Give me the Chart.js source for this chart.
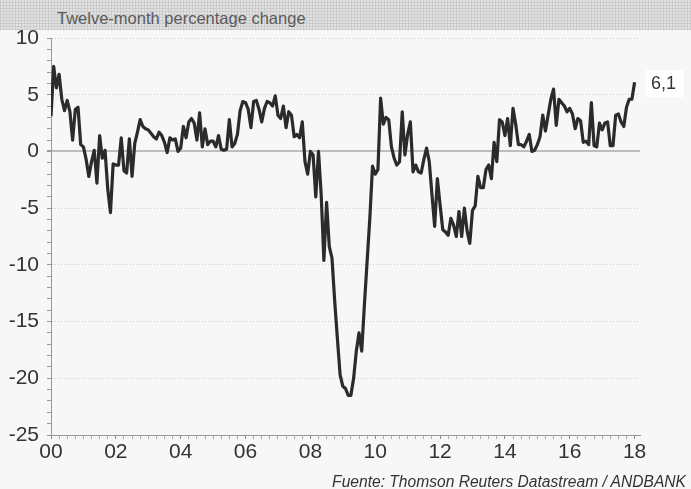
<!DOCTYPE html>
<html>
<head>
<meta charset="utf-8">
<script src="https://cdn.jsdelivr.net/npm/chart.js@4.4.1/dist/chart.umd.min.js"></script>
<style>
  html, body { margin: 0; padding: 0; }
  body { width: 691px; height: 489px; background: #f7f7f7; position: relative; overflow: hidden;
         font-family: "Liberation Sans", Arial, sans-serif; }
  #banda { position: absolute; left: 0; top: 0; width: 691px; height: 30px;
           background-color: #e2e2e2;
           background-image:
             repeating-linear-gradient(0deg, rgba(190,190,190,0.55) 0 1px, transparent 1px 3px),
             repeating-linear-gradient(90deg, rgba(190,190,190,0.55) 0 1px, transparent 1px 3px); }
  #subtitulo { position: absolute; left: 57px; top: 10px; font-size: 16.5px; color: #5a5a5a; line-height: 1; }
  #fuente { position: absolute; right: 5px; top: 474px; font-size: 15.6px; font-style: italic; color: #333; line-height: 1; }
  canvas { position: absolute; left: 0; top: 0; }
</style>
</head>
<body>
<div id="banda"></div>
<div id="subtitulo">Twelve-month percentage change</div>
<canvas id="grafico" width="691" height="489"></canvas>
<div id="fuente">Fuente: Thomson Reuters Datastream / ANDBANK</div>
<script>
  // variación interanual, mensual desde ene-2000
  const anioInicio = 2000;
  const etiquetasAnio = ['00', '02', '04', '06', '08', '10', '12', '14', '16', '18'];

  const tramo2000_05 = [
    3.1, 7.5, 5.6, 6.8, 4.6, 3.6, 4.5, 3.5, 1.0, 3.7,
    3.9, 0.6, 0.4, -0.7, -2.2, -0.9, 0.1, -2.8, 1.4, -0.6,
    0.1, -3.3, -5.4, -1.1, -1.2, -1.2, 1.2, -1.7, -1.9, 1.1,
    -2.2, 0.7, 1.7, 2.8, 2.2, 2.0, 1.9, 1.6, 1.3, 1.1,
    1.7, 1.4, 0.8, -0.1, 1.2, 1.0, 1.1, 0.0, 0.3, 2.2,
    1.2, 2.6, 2.9, 2.5, 1.0, 3.4, 0.4, 2.0, 0.6, 0.9,
    0.9, 0.4, 1.4, 0.2, 0.1, 0.2, 2.8, 0.4, 0.7, 1.5,
    3.6, 4.4
  ];
  const tramo2006_11 = [
    4.3, 3.7, 2.1, 4.4, 4.5, 3.7, 2.6, 3.8, 4.4, 4.3,
    4.0, 4.9, 3.2, 2.9, 4.0, 2.1, 3.5, 3.2, 1.3, 1.5,
    1.2, 2.6, -0.9, -2.0, 0.0, -0.3, -4.0, 0.0, -3.8, -9.6,
    -4.5, -8.4, -9.4, -13.2, -16.5, -19.7, -20.7, -20.9, -21.5, -21.5,
    -20.0, -17.6, -16.0, -17.6, -13.5, -9.7, -5.9, -1.3, -2.0, -1.6,
    4.7, 2.4, 3.0, 2.8, 0.4, -0.6, -1.2, -0.9, 3.5, -0.3,
    1.5, 2.6, -1.8, -1.2, -1.8, -1.9, -0.7, 0.3, -0.9, -3.8,
    -6.6, -2.4
  ];
  const tramo2012_18 = [
    -4.7, -6.9, -7.1, -7.4, -5.9, -6.5, -7.5, -5.3, -7.5, -5.0,
    -7.0, -8.1, -5.2, -4.8, -2.2, -3.2, -3.2, -1.6, -1.2, -2.4,
    0.8, -0.9, 2.8, 2.6, 1.4, 2.9, 0.5, 3.8, 2.4, 0.6,
    0.6, 0.4, 0.9, 1.5, 0.0, 0.1, 0.6, 1.3, 3.2, 1.8,
    3.2, 4.6, 5.5, 2.3, 4.6, 4.3, 4.0, 3.5, 3.8, 3.3,
    2.0, 2.9, 2.7, 0.8, 0.9, 0.6, 4.3, 0.5, 0.4, 2.5,
    1.9, 2.5, 2.6, 0.5, 0.5, 3.2, 3.3, 2.6, 2.2, 3.9,
    4.6, 4.6, 6.1
  ];

  const serie = tramo2000_05.concat(tramo2006_11, tramo2012_18);
  const puntos = serie.map((v, i) => ({x: i, y: v}));

  const fuenteEjes = {family: '"Liberation Sans", Arial, sans-serif'};

  // etiqueta con el ultimo dato
  const etiquetaFinal = {
    id: 'etiquetaFinal',
    afterDatasetsDraw(chart) {
      const meta = chart.getDatasetMeta(0);
      const pt = meta.data[meta.data.length - 1];
      const txt = serie[serie.length - 1].toFixed(1).replace('.', ',');
      const ctx = chart.ctx;
      ctx.save();
      ctx.fillStyle = '#ffffff';
      ctx.fillRect(pt.x + 11, pt.y - 12, 38, 27);
      ctx.font = '18px "Liberation Sans", Arial, sans-serif';
      ctx.fillStyle = '#333';
      ctx.textAlign = 'center';
      ctx.textBaseline = 'middle';
      ctx.fillText(txt, pt.x + 29, pt.y + 2);
      ctx.restore();
    }
  };

  new Chart(document.getElementById('grafico'), {
    type: 'line',
    data: {
      datasets: [{
        data: puntos,
        borderColor: '#2b2b2b',
        borderWidth: 3.2,
        borderJoinStyle: 'round',
        pointRadius: 0,
        tension: 0,
        fill: false
      }]
    },
    options: {
      responsive: false,
      animation: false,
      devicePixelRatio: 1,
      layout: {padding: {top: 38, right: 51, bottom: 0, left: 0}},
      plugins: {legend: {display: false}, tooltip: {enabled: false}},
      scales: {
        x: {
          type: 'linear',
          min: 0,
          max: 218,
          afterFit: s => { s.height = 54; },
          afterBuildTicks: s => {
            const t = [];
            for (let m = 0; m <= 216; m += 3) t.push({value: m});
            s.ticks = t;
          },
          ticks: {
            autoSkip: false,
            maxRotation: 0,
            padding: 1,
            color: '#333',
            font: {...fuenteEjes, size: 21},
            callback: v => v % 24 === 0 ? etiquetasAnio[v / 24] : ''
          },
          grid: {
            drawOnChartArea: false,
            tickLength: 4,
            tickColor: ctx => ctx.tick && ctx.tick.value % 24 === 0 ? '#888' : '#aaa'
          },
          border: {color: '#999', width: 1}
        },
        y: {
          min: -25,
          max: 10,
          afterFit: s => { s.width = 51; },
          ticks: {
            stepSize: 1,
            autoSkip: false,
            padding: 8,
            color: '#333',
            font: {...fuenteEjes, size: 21},
            callback: v => v % 5 === 0 ? String(v) : ''
          },
          grid: {
            color: ctx => {
              const v = ctx.tick ? ctx.tick.value : 1;
              if (v === 0) return '#bdbdbd';
              return v % 5 === 0 ? '#cdcdcd' : 'rgba(0,0,0,0)';
            },
            lineWidth: ctx => ctx.tick && ctx.tick.value === 0 ? 2 : 1,
            tickLength: 4,
            tickColor: '#999'
          },
          border: {
            color: '#999',
            width: 1,
            dash: ctx => (ctx.tick && ctx.tick.value !== 0) ? [1, 2] : []
          }
        }
      }
    },
    plugins: [etiquetaFinal]
  });
</script>
</body>
</html>
